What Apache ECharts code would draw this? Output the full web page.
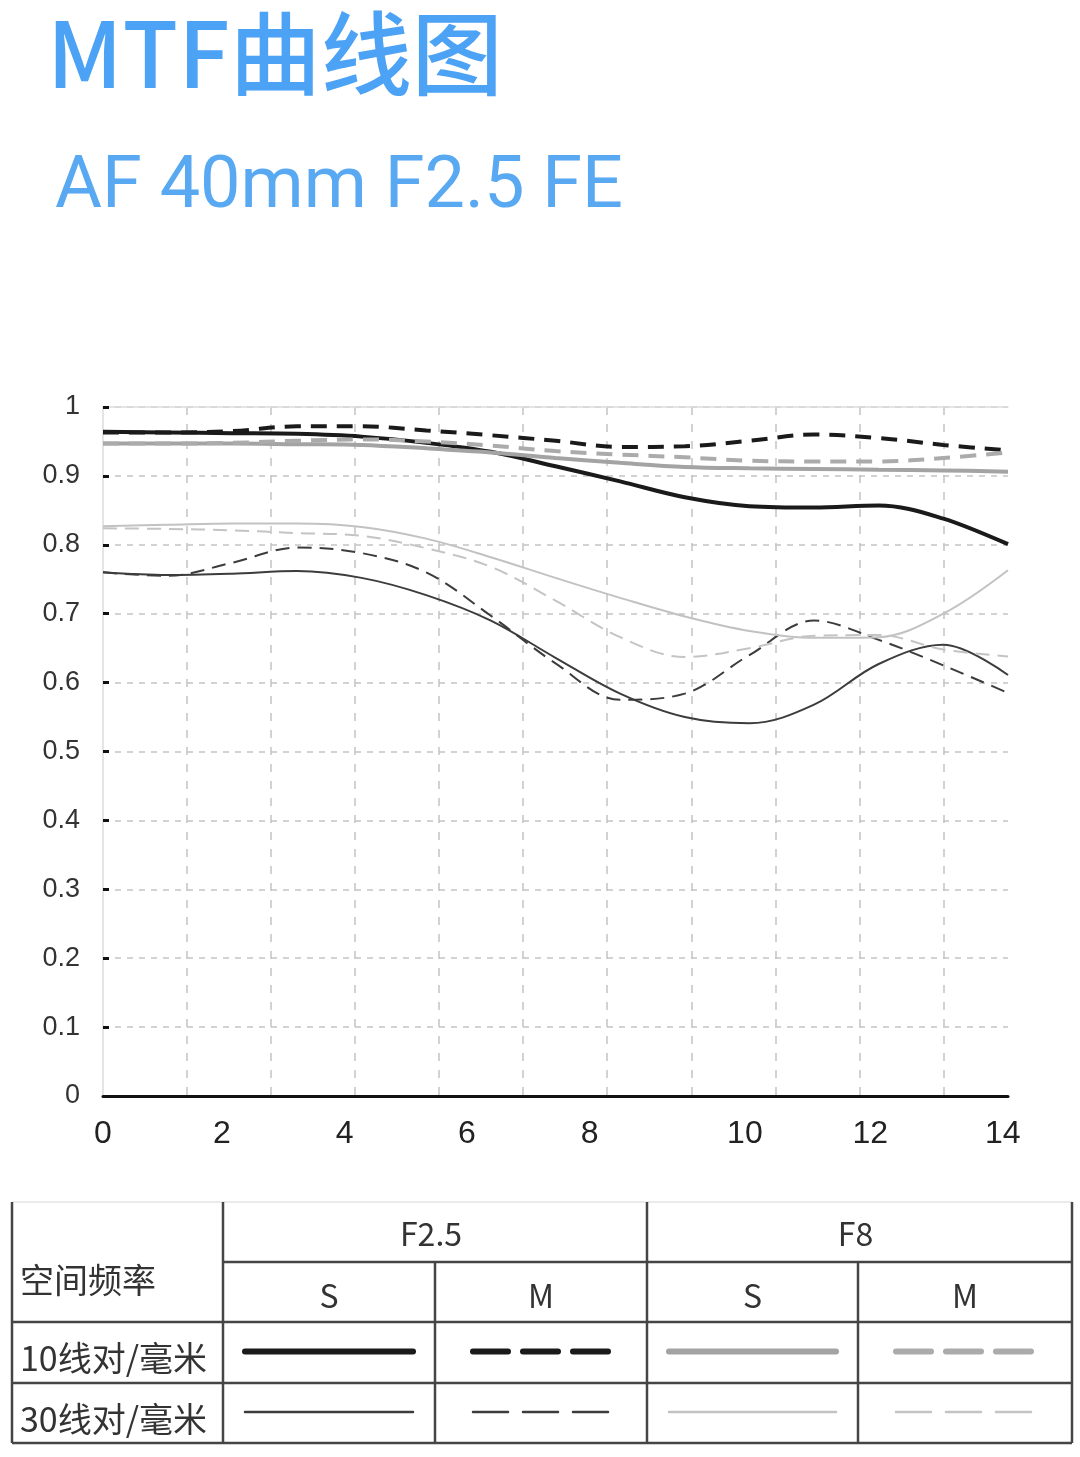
<!DOCTYPE html>
<html>

<head>
	<meta charset="utf-8">
	<title>MTF曲线图</title>
	<script src="https://cdn.jsdelivr.net/npm/echarts@6/dist/echarts.min.js"></script>
	<style>
		body { margin: 0; background: #fff; }
	</style>
</head>

<body>
	<div id="main" style="width: 1080px;height:1457px;"></div>

	<script type="text/javascript">
		// 像高 (mm)
		var imageHeight = [0, 1, 2, 3, 4, 5, 6, 7, 8, 9, 10, 11, 12, 13, 14];

		// 10线对/毫米
		var f25S10 = [0.964, 0.963, 0.962, 0.961, 0.957, 0.948, 0.935, 0.914, 0.892, 0.869, 0.856, 0.854, 0.857, 0.838, 0.801];
		var f25M10 = [0.963, 0.963, 0.965, 0.972, 0.972, 0.966, 0.959, 0.951, 0.942, 0.943, 0.951, 0.960, 0.955, 0.945, 0.937];
		var f8S10 = [0.947, 0.947, 0.947, 0.946, 0.945, 0.940, 0.934, 0.926, 0.919, 0.913, 0.911, 0.910, 0.909, 0.908, 0.906];
		var f8M10 = [0.947, 0.947, 0.948, 0.951, 0.953, 0.950, 0.944, 0.936, 0.931, 0.927, 0.922, 0.921, 0.921, 0.926, 0.934];
		// 30线对/毫米
		var f25S30 = [0.760, 0.756, 0.758, 0.762, 0.752, 0.727, 0.690, 0.636, 0.584, 0.550, 0.541, 0.568, 0.627, 0.655, 0.611];
		var f25M30 = [0.760, 0.755, 0.774, 0.796, 0.788, 0.760, 0.697, 0.628, 0.575, 0.584, 0.640, 0.690, 0.662, 0.625, 0.585];
		var f8S30 = [0.827, 0.829, 0.831, 0.831, 0.826, 0.809, 0.782, 0.752, 0.723, 0.696, 0.675, 0.665, 0.666, 0.700, 0.763];
		var f8M30 = [0.824, 0.823, 0.821, 0.817, 0.813, 0.795, 0.768, 0.719, 0.666, 0.637, 0.650, 0.668, 0.669, 0.648, 0.638];

		// x轴刻度文字 (原图文字位置不均匀)
		var xLabelText = ['0', '2', '4', '6', '8', '10', '12', '14'];
		var xLabelPos = [0, 1.84, 3.74, 5.63, 7.53, 9.93, 11.87, 13.92];

		var apertures = ['F2.5', 'F8'];
		var directions = ['S', 'M'];
		var freqs = ['10线对/毫米', '30线对/毫米'];

		// 线型: 顺序 F2.5 S, F2.5 M, F8 S, F8 M
		var lineColors10 = ['#1a1a1a', '#1a1a1a', '#a3a3a3', '#ababab'];
		var lineColors30 = ['#3c3c3c', '#3c3c3c', '#c2c2c2', '#c4c4c4'];

		var values10 = [f25S10, f25M10, f8S10, f8M10];
		var values30 = [f25S30, f25M30, f8S30, f8M30];

		function pairs(arr) {
			return arr.map(function (v, i) { return [imageHeight[i], v]; });
		}

		var series = [];
		[values10, values30].forEach(function (group, g) {
			group.forEach(function (vals, k) {
				var dashed = k % 2 === 1;
				series.push({
					name: apertures[Math.floor(k / 2)] + ' ' + directions[k % 2] + ' ' + freqs[g],
					type: 'line',
					smooth: 0.35,
					symbol: 'none',
					data: pairs(vals),
					z: g === 0 ? 3 : 4,
					lineStyle: {
						color: g === 0 ? lineColors10[k] : lineColors30[k],
						width: g === 0 ? 4 : 2,
						type: dashed ? (g === 0 ? [16, 10] : [14, 8]) : 'solid'
					}
				});
			});
		});

		// 表格 (图例)
		var colX = [12, 223, 435, 647, 858, 1072];
		var rowY = [1202, 1262, 1322, 1383, 1443];
		var tableColor = '#454545';
		var graphic = [];

		function hline(y, x1, x2, color, w) {
			graphic.push({ type: 'line', shape: { x1: x1, y1: y, x2: x2, y2: y }, style: { stroke: color, lineWidth: w } });
		}
		function vline(x, y1, y2) {
			graphic.push({ type: 'line', shape: { x1: x, y1: y1, x2: x, y2: y2 }, style: { stroke: tableColor, lineWidth: 2.5 } });
		}
		function text(str, x, y, align, size) {
			graphic.push({
				type: 'text', x: x, y: y,
				style: { text: str, fill: '#333', font: size + 'px "Noto Sans CJK SC"', textAlign: align, textVerticalAlign: 'middle' }
			});
		}

		hline(rowY[0], colX[0], colX[5], '#e4e4e4', 1.5);
		hline(rowY[1], colX[1], colX[5], tableColor, 2.5);
		hline(rowY[2], colX[0], colX[5], tableColor, 2.5);
		hline(rowY[3], colX[0], colX[5], tableColor, 2.5);
		hline(rowY[4], colX[0], colX[5], tableColor, 2.5);
		vline(colX[0], rowY[0], rowY[4]);
		vline(colX[1], rowY[0], rowY[4]);
		vline(colX[3], rowY[0], rowY[4]);
		vline(colX[5], rowY[0], rowY[4]);
		vline(colX[2], rowY[1], rowY[4]);
		vline(colX[4], rowY[1], rowY[4]);

		text('空间频率', 20, 1280, 'left', 34);
		apertures.forEach(function (a, i) {
			text(a, (colX[1 + i * 2] + colX[3 + i * 2]) / 2 - 4, (rowY[0] + rowY[1]) / 2 + 2, 'center', 32);
		});
		for (var c = 0; c < 4; c++) {
			text(directions[c % 2], (colX[c + 1] + colX[c + 2]) / 2, (rowY[1] + rowY[2]) / 2 + 4, 'center', 32);
		}
		freqs.forEach(function (f, r) {
			text(f, 20, (rowY[2 + r] + rowY[3 + r]) / 2 + 6, 'left', 34);
			for (var c = 0; c < 4; c++) {
				var s = series[r * 4 + c];
				var dashed = c % 2 === 1;
				var inset = dashed ? 38 : 22;
				var y = (rowY[2 + r] + rowY[3 + r]) / 2 - 1;
				graphic.push({
					type: 'line',
					shape: { x1: colX[c + 1] + inset, y1: y, x2: colX[c + 2] - inset, y2: y },
					style: {
						stroke: s.lineStyle.color,
						lineWidth: r === 0 ? 6 : 2.5,
						lineCap: 'round',
						lineDash: dashed ? [35, 15] : null
					}
				});
			}
		});

		var myChart = echarts.init(document.getElementById('main'));
		var option = {
			backgroundColor: '#fff',
			animation: false,
			title: [{
				text: 'MTF曲线图',
				left: 42,
				top: 3,
				textStyle: { fontSize: 91, fontWeight: 500, color: '#4ca2f4', fontFamily: 'Noto Sans CJK SC' }
			}, {
				text: 'AF 40mm F2.5 FE',
				left: 50,
				top: 148,
				textStyle: { fontSize: 72, fontWeight: 'normal', color: '#58a8f2', fontFamily: 'Roboto' }
			}],
			grid: { left: 103, right: 72, top: 407, bottom: 361 },
			xAxis: [{
				type: 'value',
				min: 0,
				max: 14,
				interval: 1.3,
				position: 'bottom',
				axisLine: { lineStyle: { color: '#111', width: 3 } },
				axisTick: { show: false },
				axisLabel: { show: false },
				splitLine: {
					show: true, showMinLine: false, showMaxLine: false,
					lineStyle: { color: '#c4c4c4', width: 1.5, type: [8, 9] }
				}
			}, {
				type: 'value',
				min: 0,
				max: 14,
				position: 'bottom',
				axisLine: { show: false },
				axisTick: { show: false },
				splitLine: { show: false },
				axisLabel: {
					customValues: xLabelPos,
					margin: 22,
					color: '#222',
					fontSize: 32,
					fontFamily: 'Liberation Sans',
					formatter: function (v) {
						var best = 0;
						xLabelPos.forEach(function (p, i) {
							if (Math.abs(p - v) < Math.abs(xLabelPos[best] - v)) best = i;
						});
						return xLabelText[best];
					}
				}
			}, {
				type: 'value',
				min: 0,
				max: 14,
				position: 'top',
				axisLine: { lineStyle: { color: '#dcdcdc', width: 1.5 } },
				axisTick: { show: false },
				axisLabel: { show: false },
				splitLine: { show: false }
			}],
			yAxis: [{
				type: 'value',
				min: 0,
				max: 1,
				interval: 0.1,
				axisLine: { show: false },
				axisTick: { show: true, inside: true, length: 6, lineStyle: { color: '#111', width: 3 } },
				axisLabel: { color: '#333', fontSize: 27, margin: 23, fontFamily: 'Liberation Sans' },
				splitLine: {
					show: true, showMinLine: false,
					lineStyle: { color: '#c4c4c4', width: 1.5, type: [6, 6] }
				}
			}, {
				type: 'value',
				min: 0,
				max: 1,
				position: 'right',
				axisLine: { show: true, lineStyle: { color: '#dcdcdc', width: 1.5 } },
				axisTick: { show: false },
				axisLabel: { show: false },
				splitLine: { show: false }
			}],
			series: series,
			graphic: graphic
		};

		myChart.setOption(option);
	</script>
</body>

</html>
